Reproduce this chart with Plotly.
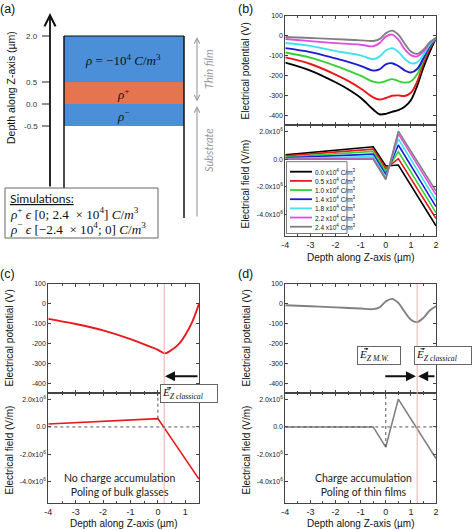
import plotly.graph_objects as go

W, H = 474, 530
SANS = "Liberation Sans"
SERIF = "Liberation Serif"
CAL = "Lato"

# ---------------- data ----------------
depth_pot = [-4, -3, -2, -1.5, -1, -0.5, -0.25, 0, 0.25, 0.5, 0.75, 1.0, 1.25, 1.5, 1.75, 2]
pot_rho_00 = [-136, -176, -235, -270, -313, -372, -396, -394, -384, -375, -358, -325, -253, -160, -82, -12]
pot_rho_05 = [-110, -143, -196, -228, -266, -311, -322, -314, -303, -301, -304, -288, -232, -139, -65, -12]
pot_rho_10 = [-85, -111, -152, -176, -202, -232, -237, -229, -219, -229, -237, -230, -195, -122, -55, -12]
pot_rho_14 = [-63, -83, -115, -132, -152, -176, -170, -145, -139, -153, -175, -186, -168, -114, -52, -12]
pot_rho_18 = [-37, -52, -78, -88, -100, -119, -106, -75, -63, -82, -117, -139, -135, -97, -46, -12]
pot_rho_22 = [-17, -28, -38, -42, -46, -54, -38, -5, 5, -20, -68, -98, -105, -80, -37, -12]
pot_rho_24 = [-7, -12, -18, -21, -24, -27, -18, 12, 25, 5, -40, -80, -92, -71, -34, -12]

depth_field = [-4, -0.5, 0, 0.5, 2]
field_rho_00 = [0.32e6, 0.91e6, -0.49e6, -0.42e6, -4.85e6]
field_rho_05 = [0.25e6, 0.74e6, -0.69e6, 0.05e6, -4.32e6]
field_rho_10 = [0.17e6, 0.57e6, -0.89e6, 0.54e6, -3.90e6]
field_rho_14 = [0.10e6, 0.37e6, -1.11e6, 1.04e6, -3.46e6]
field_rho_18 = [0.05e6, 0.20e6, -1.28e6, 1.48e6, -3.01e6]
field_rho_22 = [0.02e6, 0.07e6, -1.43e6, 1.85e6, -2.59e6]
field_rho_24 = [0.0, 0.0, -1.48e6, 2.05e6, -2.32e6]

rho_labels = ["0.0", "0.5", "1.0", "1.4", "1.8", "2.2", "2.4"]
series_colors = ["#000000", "#e8191c", "#33d133", "#1c1cd6", "#3fe3ef", "#e34ce3", "#808080"]

depth_c_pot = [-4, -3, -2, -1, -0.5, 0, 0.25, 0.5, 0.75, 1.0, 1.25, 1.5]
pot_c = [-76, -102, -134, -178, -205, -232, -250, -233, -205, -157, -92, 0]
depth_c_field = [-4, 0, 1.5]
field_c = [0.22e6, 0.61e6, -3.84e6]
e_zero_c = 0.23
e_zero_d = 1.25

x_ticks_full = [-4, -3, -2, -1, 0, 1, 2]
x_ticks_c = [-4, -3, -2, -1, 0, 1]
pot_ticks = [100, 0, -100, -200, -300, -400]
field_ticks = [2e6, 0, -2e6, -4e6]
field_ticktext = ["2.0x10<sup>6</sup>", "0.0", "-2.0x10<sup>6</sup>", "-4.0x10<sup>6</sup>"]

layer_depths = [2.0, 0.5, 0.0, -0.5]
layer_tick_text = ["2.0", "0.5", "0.0", "-0.5"]
# drawing positions of the schematic layer boundaries (schematic is not to scale)
layer_draw_pos = [36, 82, 104, 126]

# ---------------- helpers ----------------
def X(p):
    return p / W

def Y(p):
    return 1 - p / H

pot_list = [pot_rho_00, pot_rho_05, pot_rho_10, pot_rho_14, pot_rho_18, pot_rho_22, pot_rho_24]
field_list = [field_rho_00, field_rho_05, field_rho_10, field_rho_14, field_rho_18, field_rho_22, field_rho_24]

fig = go.Figure()

for pot, fld, col in zip(pot_list, field_list, series_colors):
    fig.add_trace(go.Scatter(x=depth_pot, y=pot, mode="lines", line=dict(color=col, width=1.9, shape="spline", smoothing=1.0),
                             xaxis="x", yaxis="y", showlegend=False))
    fig.add_trace(go.Scatter(x=depth_field, y=fld, mode="lines", line=dict(color=col, width=1.6),
                             xaxis="x2", yaxis="y2", showlegend=False))

fig.add_trace(go.Scatter(x=depth_c_pot, y=pot_c, mode="lines", line=dict(color="#e8191c", width=1.9, shape="spline", smoothing=1.0),
                         xaxis="x3", yaxis="y3", showlegend=False))
fig.add_trace(go.Scatter(x=depth_c_field, y=field_c, mode="lines", line=dict(color="#e8191c", width=1.6),
                         xaxis="x4", yaxis="y4", showlegend=False))
fig.add_trace(go.Scatter(x=depth_pot, y=pot_rho_24, mode="lines", line=dict(color="#808080", width=1.9, shape="spline", smoothing=1.0),
                         xaxis="x5", yaxis="y5", showlegend=False))
fig.add_trace(go.Scatter(x=depth_field, y=field_rho_24, mode="lines", line=dict(color="#808080", width=1.6),
                         xaxis="x6", yaxis="y6", showlegend=False))

# ---------------- axes ----------------
frame = dict(showline=True, linecolor="#444", linewidth=1, mirror="allticks", ticks="inside", ticklen=3,
             tickwidth=1, tickcolor="#444", showgrid=False, zeroline=False)

BX = [X(285.3), X(436)]
CX = [X(48.3), X(199)]
B_TOP = [Y(125), Y(15.7)]
B_BOT = [Y(236), Y(125)]
CD_TOP = [Y(393), Y(284)]
CD_BOT = [Y(503), Y(393)]

def xaxis(domain, anchor, labels, rng, ticks):
    return dict(frame, domain=domain, anchor=anchor, range=rng, tickmode="array", tickvals=ticks,
                ticktext=[str(t) for t in ticks], showticklabels=labels,
                tickfont=dict(family=SANS, size=9, color="#222"),
                minor=dict(ticks="inside", ticklen=2, tickcolor="#444", tickmode="linear", tick0=0, dtick=0.5))

def pot_axis(domain, anchor):
    return dict(frame, domain=domain, anchor=anchor, range=[-450, 100], tickmode="array", tickvals=pot_ticks,
                ticktext=[str(t) for t in pot_ticks], tickfont=dict(family=SANS, size=7, color="#222"))

def field_axis(domain, anchor):
    return dict(frame, domain=domain, anchor=anchor, range=[-5.6e6, 2.5e6], tickmode="array", tickvals=field_ticks,
                ticktext=field_ticktext, tickfont=dict(family=SANS, size=7, color="#222"))

fig.update_layout(
    xaxis=xaxis(BX, "y", False, [-4, 2], x_ticks_full), yaxis=pot_axis(B_TOP, "x"),
    xaxis2=xaxis(BX, "y2", True, [-4, 2], x_ticks_full), yaxis2=field_axis(B_BOT, "x2"),
    xaxis3=xaxis(CX, "y3", False, [-4, 1.5], x_ticks_c), yaxis3=pot_axis(CD_TOP, "x3"),
    xaxis4=xaxis(CX, "y4", True, [-4, 1.5], x_ticks_c), yaxis4=field_axis(CD_BOT, "x4"),
    xaxis5=xaxis(BX, "y5", False, [-4, 2], x_ticks_full), yaxis5=pot_axis(CD_TOP, "x5"),
    xaxis6=xaxis(BX, "y6", True, [-4, 2], x_ticks_full), yaxis6=field_axis(CD_BOT, "x6"),
    xaxis7=dict(domain=[0, X(237)], anchor="y7", range=[0, 237], visible=False),
    yaxis7=dict(domain=[Y(265), 1], anchor="x7", range=[265, 0], visible=False),
)

shapes = []
ann = []

def add_text(text, x, y, xref="paper", yref="paper", xanchor="center", yanchor="middle", **kw):
    ann.append(dict(text=text, x=x, y=y, xref=xref, yref=yref, xanchor=xanchor, yanchor=yanchor, showarrow=False, **kw))

def add_arrow(x, y, ax, ay, ref, **kw):
    ann.append(dict(text="", x=x, y=y, ax=ax, ay=ay, xref="x" + ref, yref="y" + ref, axref="x" + ref, ayref="y" + ref,
                    showarrow=True, **kw))

# ---------------- panel (a) schematic ----------------
BLUE = "#4a8fd8"
ORANGE = "#e5744f"
p2, p05, p0, pm05 = layer_draw_pos
for (y0, y1, c) in [(p2, p05, BLUE), (p05, p0, ORANGE), (p0, pm05, BLUE)]:
    shapes.append(dict(type="rect", xref="x7", yref="y7", x0=64, x1=184, y0=y0, y1=y1, fillcolor=c, line=dict(width=0), layer="below"))
shapes.append(dict(type="line", xref="x7", yref="y7", x0=64, x1=184, y0=p2, y1=p2, line=dict(color="#111", width=1.2)))
shapes.append(dict(type="line", xref="x7", yref="y7", x0=64, x1=64, y0=p2, y1=188, line=dict(color="#111", width=1.5)))
shapes.append(dict(type="line", xref="x7", yref="y7", x0=184, x1=184, y0=p2, y1=218, line=dict(color="#111", width=1.5)))
for pos, txt in zip(layer_draw_pos, layer_tick_text):
    shapes.append(dict(type="line", xref="x7", yref="y7", x0=42, x1=50, y0=pos, y1=pos, line=dict(color="#222", width=1)))
    add_text(txt, 40, pos, "x7", "y7", xanchor="right", font=dict(family=SANS, size=8, color="#333"))
add_arrow(50, 13, 50, 188, "7", arrowhead=5, arrowsize=1.2, arrowwidth=1.8, arrowcolor="#111")
add_text("Depth along Z-axis (µm)", X(11), Y(88), textangle=-90, font=dict(family=SANS, size=10.5, color="#111"))
add_arrow(197, 37, 197, 103, "7", arrowhead=5, startarrowhead=5, arrowside="end+start", arrowsize=1, startarrowsize=1,
          arrowwidth=1.1, arrowcolor="#9a9a9a")
add_arrow(197, 106, 197, 218, "7", arrowhead=5, arrowsize=1, arrowwidth=1.1, arrowcolor="#9a9a9a")
add_text("<i>Thin film</i>", 208, 69, "x7", "y7", textangle=-90, font=dict(family=CAL, size=11, color="#999"))
add_text("<i>Substrate</i>", 208, 150, "x7", "y7", textangle=-90, font=dict(family=CAL, size=11, color="#999"))
add_text("<i>ρ</i> = −10<sup>4</sup> <i>C</i>/<i>m</i><sup>3</sup>", 123, 60, "x7", "y7", font=dict(family=SERIF, size=13, color="#111"))
add_text("<i>ρ</i><sup>+</sup>", 123, 94, "x7", "y7", font=dict(family=SERIF, size=13, color="#111"))
add_text("<i>ρ</i><sup>−</sup>", 123, 116, "x7", "y7", font=dict(family=SERIF, size=13, color="#111"))
shapes.append(dict(type="rect", xref="x7", yref="y7", x0=5, x1=158, y0=188, y1=238, fillcolor="white", line=dict(color="#666", width=1)))
add_text("<u>Simulations:</u>", 8, 198, "x7", "y7", xanchor="left", font=dict(family=CAL, size=12, color="#111"))
add_text("<i>ρ</i><sup>+</sup> <i>ϵ</i> [0; 2.4  × 10<sup>4</sup>] <i>C</i>/<i>m</i><sup>3</sup>", 8, 213, "x7", "y7",
         xanchor="left", font=dict(family=SERIF, size=13.2, color="#111"))
add_text("<i>ρ</i><sup>−</sup> <i>ϵ</i> [−2.4  × 10<sup>4</sup>; 0] <i>C</i>/<i>m</i><sup>3</sup>", 8, 228, "x7", "y7",
         xanchor="left", font=dict(family=SERIF, size=13.2, color="#111"))

# ---------------- panel labels ----------------
for lab, x0, y0 in [("(a)", -2, 0), ("(b)", 236, 0), ("(c)", -2, 265), ("(d)", 236, 265)]:
    add_text(lab, X(x0), Y(y0), xanchor="left", yanchor="top", font=dict(family=SANS, size=12.5, color="#111"))

# ---------------- axis titles ----------------
def ytitle(x, yc, text):
    add_text(text, X(x), Y(yc), textangle=-90, font=dict(family=SANS, size=10, color="#111"))

def xtitle(xc, y, text):
    add_text(text, X(xc), Y(y), font=dict(family=SANS, size=10, color="#111"))

ytitle(245.5, 71, "Electrical potential (V)")
ytitle(245.5, 184, "Electrical field (V/m)")
ytitle(8.5, 338, "Electrical potential (V)")
ytitle(8.5, 450, "Electrical field (V/m)")
ytitle(245.5, 338, "Electrical potential (V)")
ytitle(245.5, 450, "Electrical field (V/m)")
xtitle(360.6, 257, "Depth along Z-axis (µm)")
xtitle(123.6, 523, "Depth along Z-axis (µm)")
xtitle(360.6, 523, "Depth along Z-axis (µm)")

# ---------------- legend of (b) ----------------
shapes.append(dict(type="rect", xref="paper", yref="paper", x0=X(286.5), x1=X(347), y0=Y(233.5), y1=Y(161.7),
                   fillcolor="white", line=dict(color="#555", width=0.8)))
for i, (lab, col) in enumerate(zip(rho_labels, series_colors)):
    yy = 171.7 + i * 9.17
    shapes.append(dict(type="line", xref="paper", yref="paper", x0=X(290), x1=X(312), y0=Y(yy), y1=Y(yy),
                       line=dict(color=col, width=1.8)))
    add_text(lab + " x10<sup>4</sup> C/m<sup>3</sup>", X(312.5), Y(yy), xanchor="left",
             font=dict(family=SANS, size=6.5, color="#111"))

# ---------------- E-field label boxes ----------------
def efield_box(xc, yc, width, sub):
    add_text("<i>E</i><sub><i>" + sub + "</i></sub>", X(xc), Y(yc), align="left", bgcolor="white", bordercolor="#666",
             borderwidth=1, borderpad=1, width=width, height=15, font=dict(family=SERIF, size=11, color="#111"))
    # small vector arrow above the E
    ex = xc - width / 2 + 6.5
    ann.append(dict(text="", xref="paper", yref="paper", x=X(ex + 3), y=Y(yc - 6.2), ax=-6, ay=0,
                    showarrow=True, arrowhead=2, arrowsize=0.5, arrowwidth=0.9, arrowcolor="#111"))

# ---------------- (c) decorations ----------------
shapes.append(dict(type="line", xref="x3", yref="paper", x0=e_zero_c, x1=e_zero_c, y0=Y(503), y1=Y(284),
                   line=dict(color="#f3a9a9", width=1)))
shapes.append(dict(type="line", xref="x4", yref="y4", x0=-4, x1=1.5, y0=0, y1=0, line=dict(color="#555", width=1, dash="dot")))
shapes.append(dict(type="line", xref="x4", yref="y4", x0=0, x1=0, y0=field_c[1], y1=2.5e6, line=dict(color="#555", width=1, dash="dot")))
add_arrow(0.26, -365, 1.5, -365, "3", arrowhead=2, arrowsize=1, arrowwidth=2, arrowcolor="#111")
efield_box(189, 394, 54, "Z classical")
add_text("No charge accumulation<br>Poling of bulk glasses", -1.4, -4.3e6, "x4", "y4", font=dict(family=CAL, size=10.5, color="#222"))

# ---------------- (d) decorations ----------------
shapes.append(dict(type="line", xref="x5", yref="paper", x0=e_zero_d, x1=e_zero_d, y0=Y(503), y1=Y(284),
                   line=dict(color="#f3a9a9", width=1)))
shapes.append(dict(type="line", xref="x6", yref="y6", x0=-4, x1=2, y0=0, y1=0, line=dict(color="#555", width=1, dash="dot")))
shapes.append(dict(type="line", xref="x6", yref="y6", x0=0, x1=0, y0=field_rho_24[2], y1=2.5e6, line=dict(color="#555", width=1, dash="dot")))
add_arrow(1.2, -366, -0.08, -366, "5", arrowhead=2, arrowsize=1, arrowwidth=2, arrowcolor="#111")
add_arrow(1.29, -366, 2, -366, "5", arrowhead=2, arrowsize=1, arrowwidth=2, arrowcolor="#111")
efield_box(379, 355, 40, "Z M.W.")
efield_box(442.5, 355, 54, "Z classical")
add_text("Charge accumulation<br>Poling of thin films", -0.9, -4.3e6, "x6", "y6", font=dict(family=CAL, size=10.5, color="#222"))

fig.update_layout(
    width=W, height=H, margin=dict(l=0, r=0, t=0, b=0, autoexpand=False),
    paper_bgcolor="white", plot_bgcolor="white", showlegend=False,
    shapes=shapes, annotations=ann,
    font=dict(family=SANS, color="#111"),
)

fig.write_html("out.html", config={"displayModeBar": False},
               post_script="document.body.style.margin='0px';")
